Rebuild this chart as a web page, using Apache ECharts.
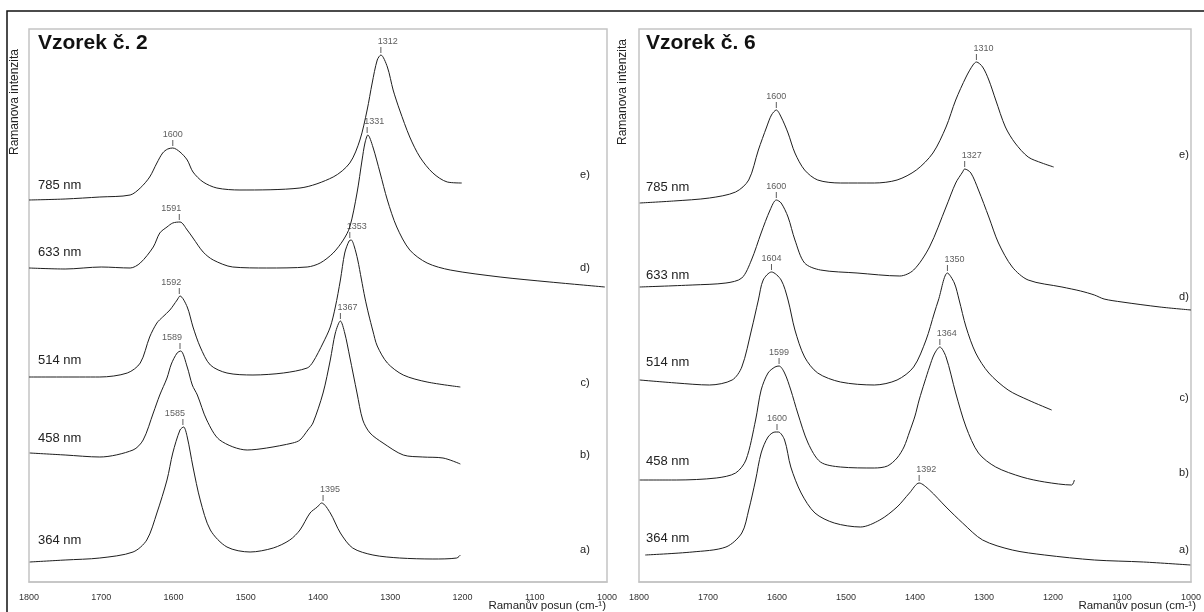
<!DOCTYPE html>
<html><head><meta charset="utf-8">
<script src="https://cdn.jsdelivr.net/npm/echarts@6/dist/echarts.min.js"></script>
<style>html,body{margin:0;padding:0;background:#fff}#c{width:1204px;height:612px}</style>
</head><body><div id="c"></div>
<script>
// ---------- DATA ----------
const xTicks = [1800, 1700, 1600, 1500, 1400, 1300, 1200, 1100, 1000];
const panelTitles = ['Vzorek č. 2', 'Vzorek č. 6'];
const laserLabels = ['785 nm', '633 nm', '514 nm', '458 nm', '364 nm'];
const curveLetters = ['e)', 'd)', 'c)', 'b)', 'a)'];
const yAxisTitle = 'Ramanova intenzita';
const xAxisTitle = 'Ramanův posun (cm-¹)';

// Sample 2 spectra: [Raman shift cm-1, offset intensity (a.u.)]
const s2_785 = [[1800,382],[1750,383],[1702,385],[1660,387],[1646,394],[1633,405],[1623,419],[1615,429],[1608,433],[1601,434],[1591,430],[1581,422],[1573,410],[1559,400],[1540,394],[1508,392],[1425,394],[1379,405],[1356,419],[1342,442],[1332,472],[1325,499],[1318,522],[1313,527],[1304,515],[1296,492],[1287,472],[1273,445],[1259,425],[1241,409],[1221,400],[1201,399]];
const s2_633 = [[1800,314],[1750,313],[1700,315],[1660,314],[1646,319],[1628,335],[1619,349],[1609,355],[1601,359],[1591,360],[1581,352],[1573,344],[1559,330],[1545,322],[1518,315],[1471,314],[1415,315],[1397,319],[1379,329],[1365,342],[1356,355],[1346,389],[1339,422],[1335,439],[1331,447],[1324,435],[1314,409],[1304,382],[1291,355],[1273,332],[1249,319],[1217,312],[1148,305],[1079,300],[1003,295]];
const s2_514 = [[1800,205],[1702,205],[1664,209],[1646,219],[1633,245],[1623,259],[1615,265],[1605,272],[1595,282],[1591,286],[1581,275],[1573,255],[1563,235],[1549,217],[1526,209],[1490,207],[1448,209],[1415,214],[1407,220],[1393,239],[1383,255],[1376,275],[1369,302],[1363,329],[1357,341],[1354,342],[1350,336],[1345,322],[1340,303],[1335,284],[1330,268],[1324,251],[1318,236],[1304,219],[1282,207],[1249,200],[1203,195]];
const s2_458 = [[1799,129],[1750,127],[1702,125],[1656,132],[1642,142],[1628,169],[1619,187],[1609,204],[1603,218],[1595,229],[1590,231],[1581,215],[1574,197],[1567,187],[1554,162],[1536,142],[1498,132],[1471,134],[1435,139],[1425,142],[1414,152],[1407,159],[1393,189],[1383,222],[1376,249],[1369,261],[1363,249],[1356,225],[1346,189],[1338,162],[1328,149],[1310,139],[1282,127],[1255,125],[1227,124],[1203,118]];
const s2_364 = [[1799,20],[1750,22],[1702,24],[1656,30],[1637,42],[1623,69],[1609,102],[1601,129],[1591,152],[1586,155],[1581,145],[1573,115],[1563,82],[1549,52],[1526,35],[1494,30],[1462,34],[1439,42],[1425,52],[1411,69],[1401,75],[1395,79],[1383,69],[1369,49],[1352,34],[1324,27],[1287,24],[1241,23],[1208,24],[1203,27]];

// Sample 6 spectra
const s6_785 = [[1799,379],[1750,381],[1698,384],[1660,390],[1641,402],[1627,432],[1615,455],[1608,467],[1601,472],[1594,465],[1584,449],[1574,429],[1560,412],[1541,402],[1508,399],[1459,399],[1426,402],[1398,412],[1374,429],[1355,455],[1341,482],[1326,505],[1316,517],[1311,520],[1302,515],[1293,502],[1283,482],[1269,455],[1255,439],[1236,425],[1216,419],[1199,415]];
const s6_633 = [[1799,295],[1723,297],[1674,299],[1651,304],[1637,322],[1623,349],[1610,372],[1601,382],[1594,379],[1584,365],[1574,342],[1560,319],[1537,312],[1484,309],[1422,306],[1402,312],[1379,335],[1355,375],[1341,399],[1331,410],[1328,413],[1319,409],[1308,392],[1293,365],[1279,339],[1259,315],[1236,302],[1187,295],[1160,291],[1140,287],[1126,283],[1100,280],[1045,275],[1000,272]];
const s6_514 = [[1799,202],[1746,199],[1698,197],[1665,202],[1651,215],[1637,252],[1627,282],[1620,302],[1608,310],[1594,302],[1584,282],[1574,252],[1560,225],[1541,209],[1508,200],[1459,197],[1426,202],[1402,215],[1384,242],[1372,269],[1366,282],[1353,309],[1343,299],[1336,282],[1326,255],[1312,229],[1293,209],[1265,192],[1236,182],[1202,172]];
const s6_458 = [[1799,102],[1746,102],[1688,104],[1660,109],[1645,122],[1631,162],[1623,192],[1613,209],[1603,215],[1597,216],[1589,209],[1580,192],[1570,169],[1555,139],[1537,120],[1508,115],[1459,114],[1440,116],[1426,124],[1416,135],[1408,150],[1400,166],[1394,182],[1386,200],[1379,215],[1372,228],[1364,235],[1355,225],[1341,189],[1326,155],[1308,129],[1283,115],[1245,105],[1212,100],[1173,97],[1169,102]];
const s6_364 = [[1791,27],[1723,30],[1674,35],[1651,49],[1641,72],[1631,102],[1623,129],[1613,145],[1603,150],[1598,150],[1589,142],[1580,115],[1565,89],[1545,69],[1517,59],[1479,55],[1451,62],[1426,75],[1408,89],[1394,99],[1379,92],[1355,75],[1331,59],[1302,42],[1259,32],[1212,27],[1140,22],[1069,20],[1001,17]];

// Peak annotations: [shift, intensity at peak top, label]
const peaks2 = [[1601,434,'1600'],[1313,527,'1312'],[1592,360,'1591'],[1332,447,'1331'],[1592,286,'1592'],[1356,342,'1353'],[1591,231,'1589'],[1369,261,'1367'],[1587,155,'1585'],[1393,79,'1395']];
const peaks6 = [[1601,472,'1600'],[1311,520,'1310'],[1601,382,'1600'],[1328,413,'1327'],[1608,310,'1604'],[1353,309,'1350'],[1597,216,'1599'],[1364,235,'1364'],[1600,150,'1600'],[1394,99,'1392']];

// ---------- STYLE / LAYOUT ----------
const FONT = "'Liberation Sans', Arial, sans-serif";
const peakAlign2 = ['c','l','r','l','r','l','r','l','r','l'];
const peakAlign6 = ['c','l','c','l','c','l','c','l','c','l'];
const grids = [
  {left: 29, top: 29, width: 578, height: 553},
  {left: 639, top: 29, width: 559, height: 553}
];
const laserY = [[185,252,360,438,540],[187,275,362,461,538]];
const letterY = [[175,268,383,455,550],[155,297,398,473,550]];
const panelTextX = [38, 646];
const letterX = [585, 1184];
const yTitlePos = [[15,102],[623,92]];
const xTitleRight = [606, 1196];

const chart = echarts.init(document.getElementById('c'), null, {renderer: 'canvas'});

function lineSeries(data, gi) {
  return {type: 'line', data: data, xAxisIndex: gi, yAxisIndex: gi, showSymbol: false, smooth: 0.3,
    lineStyle: {color: '#1e1e1e', width: 1}, silent: true, animation: false};
}
function peakSeries(peaks, aligns, gi) {
  return {type: 'scatter', xAxisIndex: gi, yAxisIndex: gi, silent: true, animation: false,
    symbol: 'rect', symbolSize: [1, 6], symbolOffset: [0, -5],
    itemStyle: {color: '#333'},
    data: peaks.map((p, i) => {
      const a = aligns[i];
      const lab = {show: true, position: 'top', distance: 1, formatter: p[2], fontSize: 9, fontFamily: FONT, color: '#333'};
      if (a === 'l') { lab.align = 'left'; lab.offset = [-3, 0]; }
      if (a === 'r') { lab.align = 'right'; lab.offset = [2, 0]; }
      return {value: [p[0], p[1]], label: lab};
    })
  };
}

const xAxes = grids.map((g, i) => ({
  gridIndex: i, type: 'value', min: xTicks[xTicks.length-1], max: xTicks[0], interval: 100, inverse: true,
  axisLine: {show: true, lineStyle: {color: '#c4c4c4', width: 1.5}},
  axisTick: {show: false}, splitLine: {show: false},
  axisLabel: {fontSize: 9, color: '#333', fontFamily: FONT, margin: 11, showMaxLabel: true, showMinLabel: true,
    formatter: v => String(v)}
}));
const yAxes = grids.map((g, i) => ({gridIndex: i, type: 'value', min: 0, max: 553, show: false}));

const graphics = [
  {type: 'rect', shape: {x: 7, y: 11, width: 1220, height: 630}, style: {fill: 'none', stroke: '#111', lineWidth: 1.5}, z: 10}
];
for (let p = 0; p < 2; p++) {
  graphics.push({type: 'text', x: panelTextX[p], y: 43, style: {text: panelTitles[p], font: 'bold 21px ' + FONT, fill: '#111', align: 'left', verticalAlign: 'middle'}});
  graphics.push({type: 'text', x: yTitlePos[p][0], y: yTitlePos[p][1], rotation: Math.PI / 2, style: {text: yAxisTitle, font: '12px ' + FONT, fill: '#222', align: 'center', verticalAlign: 'middle'}});
  graphics.push({type: 'text', x: xTitleRight[p], y: 606, style: {text: xAxisTitle, font: '11.5px ' + FONT, fill: '#222', align: 'right', verticalAlign: 'middle'}});
  for (let k = 0; k < 5; k++) {
    graphics.push({type: 'text', x: panelTextX[p], y: laserY[p][k], style: {text: laserLabels[k], font: '13px ' + FONT, fill: '#222', align: 'left', verticalAlign: 'middle'}});
    graphics.push({type: 'text', x: letterX[p], y: letterY[p][k], style: {text: curveLetters[k], font: '11px ' + FONT, fill: '#222', align: 'center', verticalAlign: 'middle'}});
  }
}

chart.setOption({
  backgroundColor: '#fff',
  animation: false,
  grid: grids.map(g => Object.assign({show: true, borderColor: '#c4c4c4', borderWidth: 1.5, backgroundColor: 'transparent'}, g)),
  xAxis: xAxes,
  yAxis: yAxes,
  series: [
    lineSeries(s2_785, 0), lineSeries(s2_633, 0), lineSeries(s2_514, 0), lineSeries(s2_458, 0), lineSeries(s2_364, 0),
    peakSeries(peaks2, peakAlign2, 0),
    lineSeries(s6_785, 1), lineSeries(s6_633, 1), lineSeries(s6_514, 1), lineSeries(s6_458, 1), lineSeries(s6_364, 1),
    peakSeries(peaks6, peakAlign6, 1)
  ],
  graphic: graphics
});
</script></body></html>
